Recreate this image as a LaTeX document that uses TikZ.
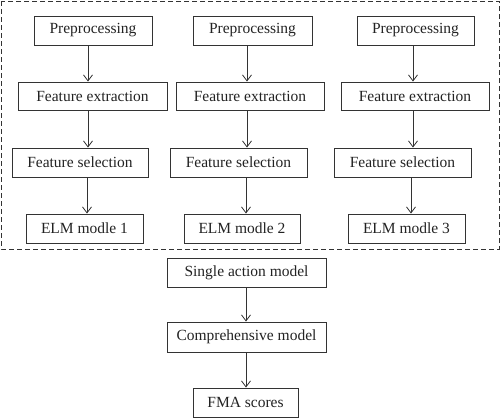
\documentclass[tikz,border=0pt]{standalone}
\usepackage{fontspec}
\setmainfont{Liberation Serif}
\usetikzlibrary{arrows.meta}
\definecolor{ln}{HTML}{333333}
\definecolor{tx}{HTML}{222222}
\begin{document}
\begin{tikzpicture}[x=1pt,y=-1pt,
  box/.style={draw=ln,line width=0.9pt,minimum height=29pt,inner sep=0pt,
    text=tx,font=\fontsize{15.5}{18}\selectfont},
  arr/.style={draw=ln,line width=0.8pt,-{Straight Barb[length=6pt,width=9pt]}}]
\useasboundingbox (0,0) rectangle (500,418);
\draw[ln,line width=0.9pt,dash pattern=on 5pt off 3pt] (1,1) rectangle (499,249);
% column 1
\node[box,minimum width=118pt] (p1) at (93,30.5) {Preprocessing};
\node[box,minimum width=149pt,minimum height=28pt] (e1) at (92.5,96) {Feature extraction};
\node[box,minimum width=136pt] (s1) at (80,162.5) {Feature selection};
\node[box,minimum width=117pt] (m1) at (84.5,228.5) {ELM modle 1};
% column 2
\node[box,minimum width=119pt] (p2) at (252.5,30.5) {Preprocessing};
\node[box,minimum width=148pt,minimum height=28pt] (e2) at (250,96) {Feature extraction};
\node[box,minimum width=137pt] (s2) at (238.5,162.5) {Feature selection};
\node[box,minimum width=116pt] (m2) at (242,228.5) {ELM modle 2};
% column 3
\node[box,minimum width=117pt] (p3) at (415.5,30.5) {Preprocessing};
\node[box,minimum width=148pt,minimum height=28pt] (e3) at (415,96) {Feature extraction};
\node[box,minimum width=137pt] (s3) at (402.5,162.5) {Feature selection};
\node[box,minimum width=117pt] (m3) at (406.5,228.5) {ELM modle 3};
% bottom
\node[box,minimum width=159pt] (sa) at (246.5,272.5) {Single action model};
\node[box,minimum width=159pt,minimum height=30pt] (cm) at (246.5,337) {Comprehensive model};
\node[box,minimum width=105pt] (fm) at (245.5,402.5) {FMA scores};
% arrow columns
\coordinate (a1) at (88,0);
\coordinate (b1) at (87,0);
\coordinate (a2) at (247,0);
\coordinate (b2) at (246,0);
\coordinate (a3) at (413,0);
\coordinate (b3) at (411,0);
\draw[arr] (p1.south -| a1) -- (e1.north -| a1);
\draw[arr] (e1.south -| a1) -- (s1.north -| a1);
\draw[arr] (s1.south -| b1) -- (m1.north -| b1);
\draw[arr] (p2.south -| a2) -- (e2.north -| a2);
\draw[arr] (e2.south -| a2) -- (s2.north -| a2);
\draw[arr] (s2.south -| b2) -- (m2.north -| b2);
\draw[arr] (p3.south -| a3) -- (e3.north -| a3);
\draw[arr] (e3.south -| a3) -- (s3.north -| a3);
\draw[arr] (s3.south -| b3) -- (m3.north -| b3);
\draw[arr] (sa.south -| b2) -- (cm.north -| b2);
\draw[arr] (cm.south -| b2) -- (fm.north -| b2);
\end{tikzpicture}
\end{document}
